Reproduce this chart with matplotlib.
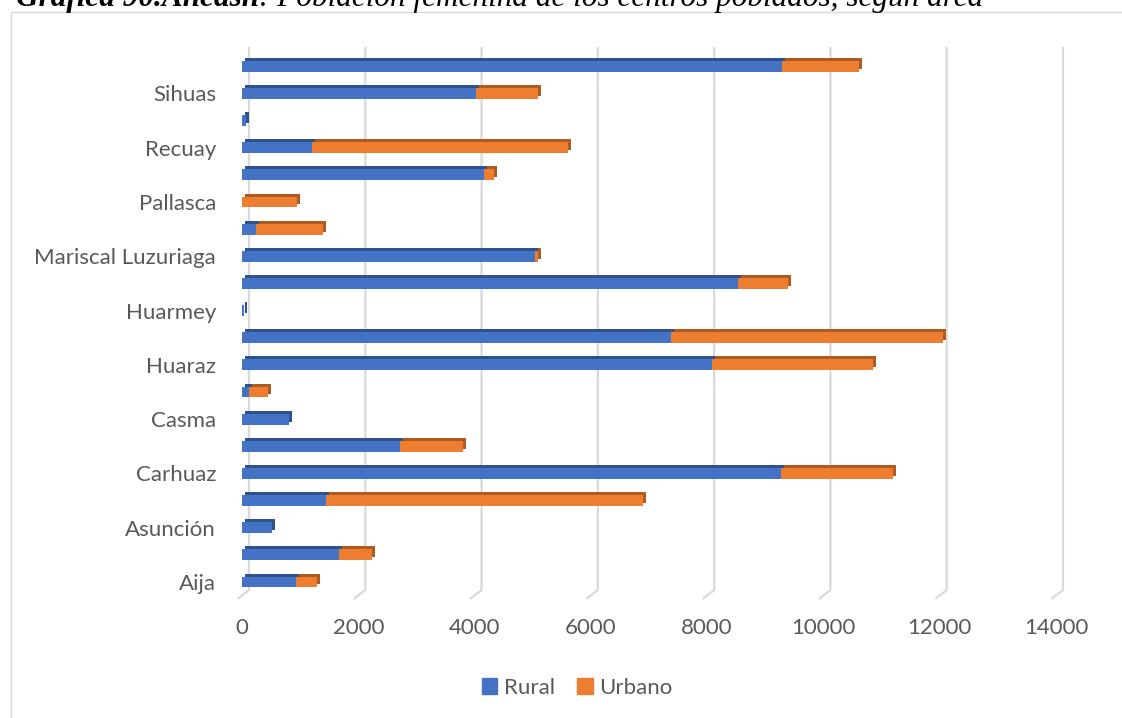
import matplotlib
matplotlib.use("Agg")
import matplotlib.pyplot as plt
from matplotlib.lines import Line2D
from matplotlib.patches import Patch, Rectangle
from matplotlib.transforms import ScaledTranslation, blended_transform_factory

provincias = ["Aija", "Antonio Raymondi", "Asunción", "Bolognesi", "Carhuaz",
              "Carlos Fermín Fitzcarrald", "Casma", "Corongo", "Huaraz", "Huari",
              "Huarmey", "Huaylas", "Mariscal Luzuriaga", "Ocros", "Pallasca",
              "Pomabamba", "Recuay", "Santa", "Sihuas", "Yungay"]
rural = [923, 1674, 510, 1445, 9269, 2717, 808, 126, 8077, 7378,
         40, 8535, 5039, 235, 0, 4167, 1198, 70, 4018, 9281]
urbano = [372, 567, 0, 5456, 1931, 1078, 0, 315, 2780, 4682,
          0, 849, 60, 1153, 951, 172, 4414, 0, 1078, 1335]
xticks = [0, 2000, 4000, 6000, 8000, 10000, 12000, 14000]

azul, azul_osc = "#4472C4", "#2F528F"
naranja, naranja_osc = "#ED7D31", "#AE5A21"
gris = "#595959"

W, H = 1122, 718
fig = plt.figure(figsize=(W / 100, H / 100), dpi=100)
ax = fig.add_axes([242 / W, 1 - 595.6 / H, (1056 - 242) / W, (595.6 - 52.7) / H])

y = list(range(len(provincias)))
h = 0.40

# 3D look: darker copy shifted up/right drawn behind the front faces
sombra = ax.transData + ScaledTranslation(3 / 100, 3 / 100, fig.dpi_scale_trans)
ax.barh(y, rural, height=h, color=azul_osc, transform=sombra, clip_on=False, zorder=2)
ax.barh(y, urbano, left=rural, height=h, color=naranja_osc, transform=sombra, clip_on=False, zorder=2)
ax.barh(y, rural, height=h, color=azul, zorder=3)
ax.barh(y, urbano, left=rural, height=h, color=naranja, zorder=3)

ax.set_xlim(0, 14000)
ax.set_ylim(-0.5, len(provincias) - 0.5)
ax.set_xticks(xticks)
ax.set_xticklabels([str(t) for t in xticks])
ax.set_yticks(y)
ax.set_yticklabels([p if i % 2 == 0 else "" for i, p in enumerate(provincias)])
ax.tick_params(axis="both", length=0, labelsize=16, labelcolor=gris)
ax.tick_params(axis="y", pad=18.7)
ax.tick_params(axis="x", pad=16)
for lab in ax.get_xticklabels() + ax.get_yticklabels():
    lab.set_fontfamily("Lato")
for s in ax.spines.values():
    s.set_visible(False)
ax.patch.set_alpha(0)

# gridlines on the back wall, with a small slanted floor piece
btr = blended_transform_factory(ax.transData, ax.transAxes)
tofig = fig.transFigure.inverted()
for t in xticks:
    x0, ytop = btr.transform((t, 1))
    _, ybot = btr.transform((t, 0))
    pts = [(x0 + 7, ytop + 4.7), (x0 + 7, ybot + 5.6), (x0 - 3.7, ybot - 2.7)]
    pts = tofig.transform(pts)
    fig.add_artist(Line2D(pts[:, 0], pts[:, 1], color="#D9D9D9", lw=1.6, zorder=0))

# chart border
fig.add_artist(Rectangle((11 / W, -0.01), 1.02, 1 - 12 / H + 0.01, transform=fig.transFigure,
                         fill=False, edgecolor="#D9D9D9", lw=1, zorder=0))

handles = [Patch(color=azul), Patch(color=naranja)]
fig.legend(handles, ["Rural", "Urbano"], loc="center", bbox_to_anchor=(577 / W, 1 - 688 / H),
           ncol=2, frameon=False, handlelength=0.7, handleheight=0.7, handletextpad=0.3,
           columnspacing=1.0, prop={"family": "Lato", "size": 16}, labelcolor=gris)

# title (cut at the top like the source)
r = fig.canvas.get_renderer()
t1 = fig.text(16 / W, 1 - 6 / H, "Gráfica 90.Ancash", family="Liberation Serif",
              style="italic", weight="bold", fontsize=22.5, va="baseline")
bb = t1.get_window_extent(renderer=r)
fig.text(bb.x1 / W, 1 - 6 / H, ": Población femenina de los centros poblados, según área",
         family="Liberation Serif", style="italic", fontsize=22.5, va="baseline")

fig.savefig("out.png", dpi=100)
